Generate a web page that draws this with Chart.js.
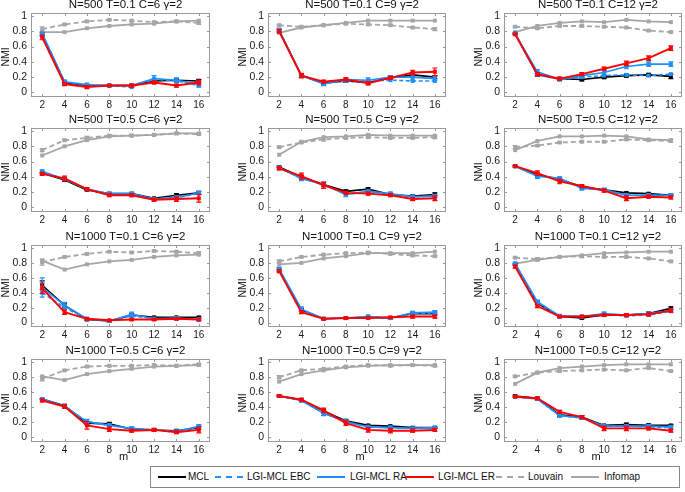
<!DOCTYPE html>
<html>
<head>
<meta charset="utf-8">
<script src="https://cdn.jsdelivr.net/npm/chart.js@4.4.1/dist/chart.umd.min.js"></script>
<style>
  body { margin: 0; background: #fff; width: 685px; height: 492px; position: relative; overflow: hidden;
         font-family: "Liberation Sans", Arial, sans-serif; color: #111; }
  canvas { position: absolute; }
  .txt { position: absolute; text-align: center; white-space: nowrap; line-height: 14px; height: 14px; }
  .ttl { font-size: 11.5px; }
  .xl { font-size: 11px; }
  .yl { font-size: 10.5px; width: 40px; transform: rotate(-90deg); }
  #legend { position: absolute; left: 150px; top: 466px; width: 530px; height: 22px; border: 1px solid #888;
            box-sizing: border-box; font-size: 10px; }
  #legend span { position: absolute; top: 4px; white-space: nowrap; }
  #legend i { position: absolute; top: 9px; width: 28px; height: 0; }
</style>
</head>
<body>
<div id="legend">
  <i style="left:7px;border-top:2px solid #000"></i><span style="left:37px">MCL</span>
  <i style="left:64px;border-top:2px dashed #1e8fff"></i><span style="left:96px">LGI-MCL EBC</span>
  <i style="left:166px;border-top:2px solid #1e8fff"></i><span style="left:199px">LGI-MCL RA</span>
  <i style="left:255px;border-top:2px solid #f00"></i><span style="left:287px">LGI-MCL ER</span>
  <i style="left:345px;border-top:2px dashed #a6a6a6"></i><span style="left:377px">Louvain</span>
  <i style="left:420px;border-top:2px solid #a6a6a6"></i><span style="left:453px">Infomap</span>
</div>
<script>
// x values and panel titles
const m = [2, 4, 6, 8, 10, 12, 14, 16];
const titles = [
  'N=500 T=0.1 C=6 γ=2', 'N=500 T=0.1 C=9 γ=2', 'N=500 T=0.1 C=12 γ=2',
  'N=500 T=0.5 C=6 γ=2', 'N=500 T=0.5 C=9 γ=2', 'N=500 T=0.5 C=12 γ=2',
  'N=1000 T=0.1 C=6 γ=2', 'N=1000 T=0.1 C=9 γ=2', 'N=1000 T=0.1 C=12 γ=2',
  'N=1000 T=0.5 C=6 γ=2', 'N=1000 T=0.5 C=9 γ=2', 'N=1000 T=0.5 C=12 γ=2'
];
const yTicks = [0, 0.2, 0.4, 0.6, 0.8, 1];

// one row per panel
const mcl = [
  [0.76, 0.13, 0.09, 0.09, 0.09, 0.15, 0.16, 0.15],
  [0.81, 0.22, 0.12, 0.15, 0.13, 0.19, 0.23, 0.20],
  [0.77, 0.23, 0.18, 0.17, 0.20, 0.22, 0.23, 0.21],
  [0.45, 0.36, 0.23, 0.18, 0.18, 0.12, 0.16, 0.19],
  [0.53, 0.40, 0.30, 0.21, 0.24, 0.17, 0.15, 0.17],
  [0.54, 0.43, 0.37, 0.27, 0.23, 0.19, 0.18, 0.16],
  [0.50, 0.23, 0.04, 0.02, 0.10, 0.07, 0.07, 0.07],
  [0.71, 0.17, 0.05, 0.06, 0.07, 0.06, 0.12, 0.12],
  [0.78, 0.26, 0.08, 0.06, 0.10, 0.10, 0.12, 0.19],
  [0.51, 0.42, 0.19, 0.18, 0.11, 0.10, 0.09, 0.13],
  [0.55, 0.50, 0.35, 0.22, 0.16, 0.15, 0.13, 0.13],
  [0.55, 0.52, 0.30, 0.27, 0.16, 0.17, 0.16, 0.16]
];
const ebc = [
  [0.77, 0.14, 0.10, 0.09, 0.07, 0.17, 0.15, 0.09],
  [0.81, 0.22, 0.12, 0.15, 0.15, 0.16, 0.15, 0.15],
  [0.77, 0.23, 0.17, 0.20, 0.22, 0.23, 0.22, 0.24],
  [0.47, 0.37, 0.24, 0.17, 0.17, 0.11, 0.13, 0.18],
  [0.52, 0.38, 0.30, 0.17, 0.21, 0.18, 0.14, 0.15],
  [0.54, 0.41, 0.38, 0.25, 0.23, 0.16, 0.16, 0.16],
  [0.40, 0.20, 0.05, 0.02, 0.09, 0.05, 0.05, 0.04],
  [0.72, 0.16, 0.05, 0.06, 0.08, 0.06, 0.12, 0.13],
  [0.78, 0.27, 0.08, 0.08, 0.11, 0.09, 0.10, 0.15],
  [0.51, 0.41, 0.21, 0.16, 0.12, 0.10, 0.08, 0.14],
  [0.55, 0.49, 0.32, 0.21, 0.14, 0.13, 0.12, 0.13],
  [0.54, 0.51, 0.29, 0.26, 0.15, 0.15, 0.14, 0.13]
];
const ra = [
  [0.77, 0.14, 0.10, 0.09, 0.09, 0.18, 0.16, 0.11],
  [0.82, 0.22, 0.11, 0.17, 0.16, 0.20, 0.20, 0.18],
  [0.77, 0.27, 0.17, 0.22, 0.26, 0.34, 0.37, 0.37],
  [0.47, 0.37, 0.24, 0.18, 0.18, 0.11, 0.13, 0.19],
  [0.52, 0.38, 0.30, 0.17, 0.21, 0.18, 0.14, 0.15],
  [0.54, 0.41, 0.38, 0.25, 0.23, 0.16, 0.16, 0.16],
  [0.47, 0.23, 0.05, 0.02, 0.11, 0.05, 0.06, 0.04],
  [0.72, 0.18, 0.05, 0.06, 0.08, 0.06, 0.13, 0.14],
  [0.79, 0.28, 0.09, 0.08, 0.12, 0.10, 0.12, 0.16],
  [0.51, 0.41, 0.21, 0.16, 0.12, 0.10, 0.08, 0.15],
  [0.55, 0.49, 0.32, 0.21, 0.14, 0.13, 0.12, 0.13],
  [0.54, 0.51, 0.29, 0.26, 0.15, 0.15, 0.15, 0.14]
];
const er = [
  [0.72, 0.11, 0.07, 0.09, 0.09, 0.13, 0.09, 0.13],
  [0.80, 0.22, 0.14, 0.17, 0.12, 0.19, 0.26, 0.27],
  [0.76, 0.24, 0.18, 0.24, 0.31, 0.38, 0.45, 0.58],
  [0.44, 0.38, 0.24, 0.16, 0.16, 0.10, 0.11, 0.12],
  [0.51, 0.41, 0.29, 0.19, 0.18, 0.16, 0.11, 0.12],
  [0.54, 0.45, 0.34, 0.28, 0.22, 0.12, 0.14, 0.13],
  [0.46, 0.14, 0.05, 0.03, 0.04, 0.04, 0.05, 0.04],
  [0.69, 0.14, 0.05, 0.06, 0.06, 0.07, 0.08, 0.08],
  [0.75, 0.22, 0.08, 0.08, 0.10, 0.10, 0.11, 0.16],
  [0.49, 0.41, 0.16, 0.11, 0.09, 0.10, 0.07, 0.10],
  [0.55, 0.50, 0.36, 0.19, 0.10, 0.09, 0.09, 0.10],
  [0.54, 0.52, 0.34, 0.27, 0.12, 0.12, 0.12, 0.09]
];
const louvain = [
  [0.83, 0.89, 0.93, 0.95, 0.94, 0.92, 0.93, 0.91],
  [0.88, 0.86, 0.88, 0.90, 0.89, 0.88, 0.85, 0.83],
  [0.86, 0.84, 0.87, 0.87, 0.86, 0.85, 0.81, 0.79],
  [0.75, 0.88, 0.91, 0.94, 0.94, 0.95, 0.97, 0.96],
  [0.79, 0.85, 0.89, 0.91, 0.92, 0.91, 0.91, 0.92],
  [0.79, 0.81, 0.85, 0.86, 0.86, 0.89, 0.88, 0.87],
  [0.81, 0.88, 0.92, 0.95, 0.94, 0.96, 0.95, 0.93],
  [0.82, 0.88, 0.91, 0.93, 0.94, 0.92, 0.90, 0.89],
  [0.87, 0.85, 0.88, 0.89, 0.88, 0.88, 0.86, 0.82],
  [0.78, 0.89, 0.94, 0.95, 0.95, 0.96, 0.95, 0.97],
  [0.80, 0.89, 0.91, 0.94, 0.96, 0.95, 0.96, 0.95],
  [0.81, 0.86, 0.88, 0.89, 0.90, 0.89, 0.92, 0.88]
];
const infomap = [
  [0.79, 0.79, 0.84, 0.87, 0.89, 0.90, 0.93, 0.94],
  [0.78, 0.85, 0.88, 0.91, 0.94, 0.94, 0.94, 0.94],
  [0.79, 0.87, 0.91, 0.93, 0.92, 0.95, 0.93, 0.92],
  [0.68, 0.80, 0.88, 0.93, 0.94, 0.95, 0.97, 0.97],
  [0.69, 0.86, 0.92, 0.93, 0.95, 0.94, 0.94, 0.94],
  [0.75, 0.87, 0.93, 0.93, 0.94, 0.93, 0.89, 0.88],
  [0.83, 0.71, 0.78, 0.82, 0.84, 0.88, 0.90, 0.91],
  [0.78, 0.80, 0.86, 0.89, 0.93, 0.93, 0.93, 0.95],
  [0.79, 0.84, 0.88, 0.90, 0.93, 0.94, 0.95, 0.95],
  [0.81, 0.76, 0.84, 0.88, 0.91, 0.94, 0.95, 0.96],
  [0.74, 0.84, 0.89, 0.93, 0.95, 0.96, 0.96, 0.96],
  [0.71, 0.86, 0.92, 0.94, 0.96, 0.97, 0.97, 0.97]
];

// error bar half-lengths
const errMcl = [
  [0.02, 0.02, 0.01, 0.01, 0.01, 0.02, 0.02, 0.02],
  [0.02, 0.02, 0.02, 0.02, 0.02, 0.02, 0.02, 0.02],
  [0.01, 0.02, 0.01, 0.02, 0.02, 0.02, 0.02, 0.03],
  [0.01, 0.02, 0.01, 0.01, 0.01, 0.01, 0.02, 0.02],
  [0.01, 0.02, 0.02, 0.02, 0.02, 0.01, 0.01, 0.02],
  [0.01, 0.02, 0.02, 0.01, 0.01, 0.01, 0.01, 0.01],
  [0.06, 0.03, 0.01, 0.01, 0.02, 0.01, 0.01, 0.01],
  [0.02, 0.02, 0.01, 0.01, 0.01, 0.01, 0.02, 0.02],
  [0.01, 0.02, 0.01, 0.01, 0.01, 0.01, 0.02, 0.02],
  [0.01, 0.02, 0.02, 0.02, 0.01, 0.01, 0.01, 0.02],
  [0.01, 0.01, 0.02, 0.02, 0.01, 0.01, 0.01, 0.01],
  [0.01, 0.01, 0.02, 0.02, 0.01, 0.02, 0.02, 0.01]
];
const errRa = [
  [0.02, 0.02, 0.02, 0.01, 0.02, 0.04, 0.03, 0.04],
  [0.02, 0.02, 0.02, 0.02, 0.03, 0.02, 0.04, 0.03],
  [0.01, 0.03, 0.02, 0.03, 0.03, 0.03, 0.03, 0.03],
  [0.02, 0.02, 0.02, 0.02, 0.02, 0.02, 0.02, 0.02],
  [0.02, 0.03, 0.03, 0.03, 0.02, 0.02, 0.02, 0.02],
  [0.01, 0.03, 0.02, 0.02, 0.02, 0.02, 0.02, 0.02],
  [0.13, 0.04, 0.01, 0.01, 0.03, 0.02, 0.02, 0.02],
  [0.02, 0.03, 0.01, 0.01, 0.01, 0.01, 0.02, 0.02],
  [0.02, 0.02, 0.01, 0.01, 0.02, 0.02, 0.02, 0.02],
  [0.01, 0.02, 0.03, 0.02, 0.02, 0.01, 0.01, 0.02],
  [0.01, 0.02, 0.03, 0.02, 0.02, 0.02, 0.01, 0.01],
  [0.01, 0.02, 0.02, 0.02, 0.02, 0.02, 0.02, 0.02]
];
const errEr = [
  [0.03, 0.02, 0.02, 0.01, 0.02, 0.02, 0.02, 0.03],
  [0.02, 0.03, 0.02, 0.02, 0.02, 0.02, 0.03, 0.05],
  [0.01, 0.02, 0.02, 0.02, 0.02, 0.03, 0.03, 0.03],
  [0.02, 0.03, 0.02, 0.02, 0.02, 0.02, 0.03, 0.05],
  [0.02, 0.04, 0.04, 0.02, 0.02, 0.02, 0.02, 0.03],
  [0.01, 0.03, 0.03, 0.02, 0.02, 0.03, 0.02, 0.02],
  [0.07, 0.03, 0.01, 0.01, 0.01, 0.01, 0.01, 0.01],
  [0.02, 0.02, 0.01, 0.01, 0.01, 0.01, 0.02, 0.02],
  [0.02, 0.02, 0.01, 0.01, 0.01, 0.02, 0.02, 0.02],
  [0.02, 0.02, 0.05, 0.03, 0.02, 0.02, 0.02, 0.04],
  [0.01, 0.02, 0.03, 0.03, 0.03, 0.03, 0.02, 0.02],
  [0.01, 0.02, 0.02, 0.02, 0.03, 0.03, 0.02, 0.02]
];
const errLouvain = [
  [0.03, 0.01, 0.01, 0.01, 0.01, 0.01, 0.01, 0.02],
  [0.01, 0.01, 0.01, 0.01, 0.01, 0.01, 0.01, 0.02],
  [0.01, 0.01, 0.01, 0.01, 0.01, 0.01, 0.01, 0.01],
  [0.02, 0.01, 0.02, 0.01, 0.01, 0.01, 0.01, 0.01],
  [0.01, 0.01, 0.02, 0.01, 0.01, 0.01, 0.01, 0.02],
  [0.02, 0.01, 0.01, 0.01, 0.01, 0.01, 0.01, 0.02],
  [0.04, 0.01, 0.01, 0.01, 0.01, 0.01, 0.01, 0.02],
  [0.02, 0.01, 0.01, 0.01, 0.01, 0.01, 0.01, 0.01],
  [0.01, 0.02, 0.01, 0.02, 0.01, 0.01, 0.01, 0.01],
  [0.03, 0.01, 0.01, 0.01, 0.01, 0.01, 0.01, 0.01],
  [0.02, 0.01, 0.01, 0.01, 0.01, 0.01, 0.01, 0.01],
  [0.01, 0.01, 0.01, 0.01, 0.01, 0.01, 0.01, 0.01]
];

const FONT = '"Liberation Sans", Arial, sans-serif';
Chart.defaults.font.family = FONT;
Chart.defaults.color = '#1a1a1a';

// vertical error bars, drawn right after their own line
const errorBars = {
  id: 'errorBars',
  afterDatasetDraw(chart, args) {
    const ds = chart.data.datasets[args.index];
    if (!ds.err) return;
    const ctx = chart.ctx, xs = chart.scales.x, ys = chart.scales.y;
    ctx.save();
    ctx.strokeStyle = ds.borderColor;
    ctx.lineWidth = 1.2;
    ds.data.forEach((p, i) => {
      const e = ds.err[i];
      if (!e) return;
      const x = xs.getPixelForValue(p.x);
      const lo = ys.getPixelForValue(p.y - e), hi = ys.getPixelForValue(p.y + e);
      ctx.beginPath();
      ctx.moveTo(x, lo); ctx.lineTo(x, hi);
      ctx.moveTo(x - 2.5, lo); ctx.lineTo(x + 2.5, lo);
      ctx.moveTo(x - 2.5, hi); ctx.lineTo(x + 2.5, hi);
      ctx.stroke();
    });
    ctx.restore();
  }
};

// matlab style box with inward ticks
const axesBox = {
  id: 'axesBox',
  beforeDatasetsDraw(chart) {
    const { ctx, chartArea: a, scales: { x, y } } = chart;
    ctx.save();
    ctx.strokeStyle = '#9a9a9a';
    ctx.lineWidth = 1;
    ctx.strokeRect(a.left + 0.5, a.top + 0.5, a.right - a.left - 1, a.bottom - a.top - 1);
    ctx.beginPath();
    m.forEach(v => {
      const px = Math.round(x.getPixelForValue(v)) + 0.5;
      ctx.moveTo(px, a.bottom); ctx.lineTo(px, a.bottom - 3);
      ctx.moveTo(px, a.top); ctx.lineTo(px, a.top + 3);
    });
    yTicks.forEach(v => {
      const py = Math.round(y.getPixelForValue(v)) + 0.5;
      ctx.moveTo(a.left, py); ctx.lineTo(a.left + 3, py);
      ctx.moveTo(a.right, py); ctx.lineTo(a.right - 3, py);
    });
    ctx.stroke();
    ctx.restore();
  }
};

const colBox = [[31, 212], [268, 448], [504, 684]];
const rowBox = [[13, 97], [128, 212], [245, 327], [359, 442]];
const topPad = 15, yAxisW = 31;

function line(label, vals, err, color, width, dash, order) {
  return {
    label, order, err,
    data: m.map((x, i) => ({ x, y: vals[i] })),
    borderColor: color, backgroundColor: color,
    borderWidth: width, borderDash: dash,
    pointStyle: 'rect', pointRadius: 2.8, pointBorderWidth: 0,
    tension: 0, fill: false
  };
}

function addText(cls, text, left, top, width) {
  const d = document.createElement('div');
  d.className = 'txt ' + cls;
  d.textContent = text;
  d.style.left = left + 'px';
  d.style.top = top + 'px';
  if (width) d.style.width = width + 'px';
  document.body.appendChild(d);
}

titles.forEach((title, p) => {
  const r = Math.floor(p / 3), c = p % 3;
  const bottomRow = r === 3;
  const xH = bottomRow ? 24 : 16;
  const [bl, br] = colBox[c], [bt, bb] = rowBox[r];
  const cv = document.createElement('canvas');
  const w = br - bl + yAxisW + 2, h = topPad + (bb - bt) + xH;
  cv.width = w; cv.height = h;
  cv.style.left = (bl - yAxisW) + 'px';
  cv.style.top = (bt - topPad) + 'px';
  cv.style.width = w + 'px'; cv.style.height = h + 'px';
  document.body.appendChild(cv);

  new Chart(cv, {
    type: 'line',
    data: {
      datasets: [
        line('MCL', mcl[p], errMcl[p], '#000000', 1.6, [], 4),
        line('LGI-MCL EBC', ebc[p], null, '#1e8fff', 1.6, [4, 2.5], 3),
        line('LGI-MCL RA', ra[p], errRa[p], '#1e8fff', 1.6, [], 2),
        line('LGI-MCL ER', er[p], errEr[p], '#ff0000', 1.9, [], 1),
        line('Louvain', louvain[p], errLouvain[p], '#a6a6a6', 1.8, [5, 3], 5),
        line('Infomap', infomap[p], null, '#a6a6a6', 1.8, [], 6)
      ]
    },
    options: {
      responsive: false,
      animation: false,
      layout: { padding: { left: 0, right: 2, top: topPad, bottom: 0 } },
      plugins: {
        legend: { display: false },
        tooltip: { enabled: false },
        title: { display: false }
      },
      scales: {
        x: {
          type: 'linear', min: 1, max: 17,
          afterBuildTicks: s => { s.ticks = m.map(v => ({ value: v })); },
          afterFit: s => { s.height = xH; },
          grid: { display: false, drawTicks: false, tickLength: 0 }, border: { display: false },
          ticks: { font: { size: 10 }, padding: 2, maxRotation: 0 }
        },
        y: {
          min: -0.06, max: 1.04,
          afterBuildTicks: s => { s.ticks = yTicks.map(v => ({ value: v })); },
          afterFit: s => { s.width = yAxisW; },
          grid: { display: false, drawTicks: false, tickLength: 0 }, border: { display: false },
          ticks: { font: { size: 10.5 }, padding: 4, callback: v => String(Math.round(v * 10) / 10) }
        }
      }
    },
    plugins: [axesBox, errorBars]
  });

  // panel title, axis titles
  addText('ttl', title, bl + 4, bt - 16, br - bl);
  addText('yl', 'NMI', bl - 26 - 20, (bt + bb) / 2 - 5, 40);
  if (bottomRow) addText('xl', 'm', bl + 2, bb + 7, br - bl);
});
</script>
</body>
</html>
